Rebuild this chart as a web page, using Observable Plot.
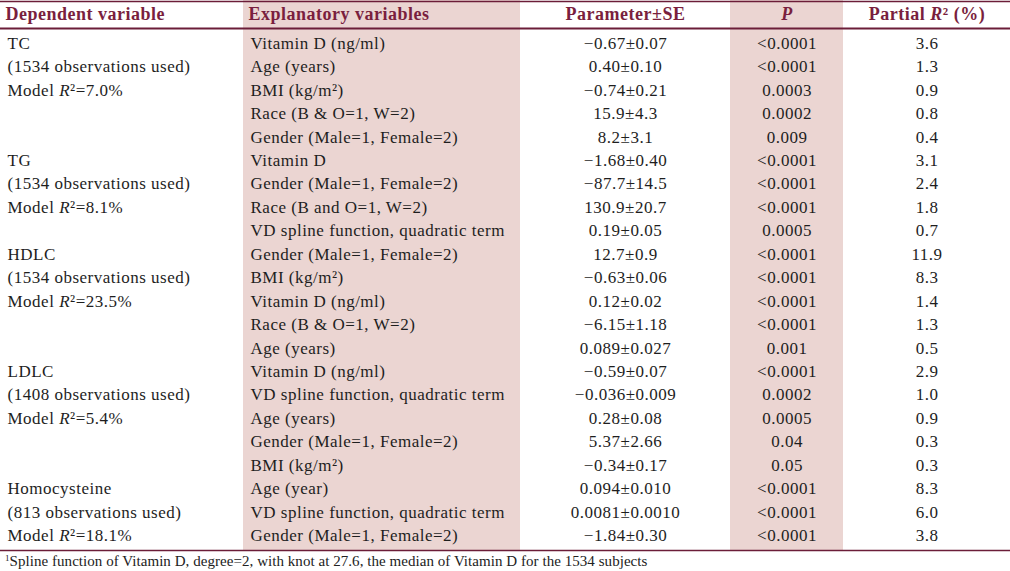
<!DOCTYPE html>
<html><head><meta charset="utf-8">
<script src="https://cdn.jsdelivr.net/npm/d3@7"></script>
<script src="https://cdn.jsdelivr.net/npm/@observablehq/plot@0.6"></script>
<style>
body{margin:0;background:#fff;}
#chart svg{display:block;}
#fn{font-family:"Liberation Serif",serif;font-size:15px;letter-spacing:0.05px;color:#222;margin:0 0 0 5px;line-height:19px;white-space:nowrap;}
#fn sup{font-size:9px;vertical-align:5px;line-height:0;}
</style></head><body>
<div id="chart"></div>
<div id="fn"><sup>1</sup>Spline function of Vitamin D, degree=2, with knot at 27.6, the median of Vitamin D for the 1534 subjects</div>
<script>
// ---- data ----
const columns = ["Dependent variable", "Explanatory variables", "Parameter±SE", "P", "Partial R² (%)"];
const groups = ["TC", "TG", "HDLC", "LDLC", "Homocysteine"];
const groupObs = [1534, 1534, 1534, 1408, 813];
const groupR2 = ["7.0", "8.1", "23.5", "5.4", "18.1"];
const groupSizes = [5, 4, 5, 5, 3];
const explanatory = [
  "Vitamin D (ng/ml)", "Age (years)", "BMI (kg/m²)", "Race (B & O=1, W=2)", "Gender (Male=1, Female=2)",
  "Vitamin D", "Gender (Male=1, Female=2)", "Race (B and O=1, W=2)", "VD spline function, quadratic term",
  "Gender (Male=1, Female=2)", "BMI (kg/m²)", "Vitamin D (ng/ml)", "Race (B & O=1, W=2)", "Age (years)",
  "Vitamin D (ng/ml)", "VD spline function, quadratic term", "Age (years)", "Gender (Male=1, Female=2)", "BMI (kg/m²)",
  "Age (year)", "VD spline function, quadratic term", "Gender (Male=1, Female=2)"
];
const parameters = [
  "−0.67±0.07", "0.40±0.10", "−0.74±0.21", "15.9±4.3", "8.2±3.1",
  "−1.68±0.40", "−87.7±14.5", "130.9±20.7", "0.19±0.05",
  "12.7±0.9", "−0.63±0.06", "0.12±0.02", "−6.15±1.18", "0.089±0.027",
  "−0.59±0.07", "−0.036±0.009", "0.28±0.08", "5.37±2.66", "−0.34±0.17",
  "0.094±0.010", "0.0081±0.0010", "−1.84±0.30"
];
const pValues = [
  "<0.0001", "<0.0001", "0.0003", "0.0002", "0.009",
  "<0.0001", "<0.0001", "<0.0001", "0.0005",
  "<0.0001", "<0.0001", "<0.0001", "<0.0001", "0.001",
  "<0.0001", "0.0002", "0.0005", "0.04", "0.05",
  "<0.0001", "<0.0001", "<0.0001"
];
const partialR2 = [
  "3.6", "1.3", "0.9", "0.8", "0.4",
  "3.1", "2.4", "1.8", "0.7",
  "11.9", "8.3", "1.4", "1.3", "0.5",
  "2.9", "1.0", "0.9", "0.3", "0.3",
  "8.3", "6.0", "3.8"
];

// ---- layout ----
const colEdges = [0, 243, 520, 730, 843, 1010];
const colAlign = ["start", "start", "middle", "middle", "middle"];
const shaded = [1, 3];
const maroon = "#7a1f3e";
const lineColor = "#6b1d38";
const shade = "#ebd5d2";
const ink = "#1e1e1e";
const colX = (c) => colAlign[c] === "start" ? colEdges[c] + 7 : (colEdges[c] + colEdges[c + 1]) / 2;

const rows = explanatory.map((e, i) => ({i, explanatory: e, parameter: parameters[i], p: pValues[i], partial: partialR2[i]}));
const depLines = [];
let start = 0;
groups.forEach((g, k) => {
  [g, `(${groupObs[k]} observations used)`, `Model R²=${groupR2[k]}%`].forEach((t, j) => depLines.push({i: start + j, text: t}));
  start += groupSizes[k];
});
const header = columns.map((name, c) => ({name, c}));

const cellText = (field, c) => Plot.text(rows, {
  x: () => colX(c), y: "i", text: field, textAnchor: colAlign[c], fill: ink
});
const headerText = (anchor, extraDx) => Plot.text(header.filter((d) => colAlign[d.c] === anchor), {
  x: (d) => colX(d.c) + extraDx, frameAnchor: "top", lineAnchor: "middle", dy: -14, text: "name",
  textAnchor: anchor, fill: maroon, fontWeight: "bold", fontSize: 18
});

const plot = Plot.plot({
  width: 1010, height: 552,
  marginLeft: 0, marginRight: 0, marginTop: 28, marginBottom: 2,
  x: {type: "linear", domain: [0, 1010], axis: null},
  y: {type: "band", domain: d3.range(rows.length), paddingInner: 0, paddingOuter: 0.13, round: false, axis: null},
  style: {fontFamily: "Liberation Serif", fontSize: "17px", background: "#fff", letterSpacing: "0.5px"},
  marks: [
    Plot.barX(shaded, {x1: (c) => colEdges[c], x2: (c) => colEdges[c + 1], fill: shade, insetTop: -28}),
    headerText("start", -2),
    headerText("middle", 0),
    Plot.text(depLines, {x: () => colX(0), y: "i", text: "text", textAnchor: "start", fill: ink}),
    cellText("explanatory", 1),
    cellText("parameter", 2),
    cellText("p", 3),
    cellText("partial", 4),
    Plot.frame({anchor: "top", stroke: lineColor, strokeWidth: 2}),
    Plot.frame({anchor: "top", stroke: lineColor, strokeWidth: 1.6, dy: -27}),
    Plot.frame({anchor: "bottom", stroke: lineColor, strokeWidth: 1.6})
  ]
});

// italic R in R² and italic P header
plot.querySelectorAll("text").forEach((t) => {
  if (t.children.length === 0) {
    const s = t.textContent;
    if (s === "P") t.setAttribute("font-style", "italic");
    else if (s.includes("R²")) {
      const [a, b] = s.split("R²");
      t.textContent = "";
      const ns = "http://www.w3.org/2000/svg";
      const t1 = document.createElementNS(ns, "tspan"); t1.textContent = a;
      const t2 = document.createElementNS(ns, "tspan"); t2.textContent = "R"; t2.setAttribute("font-style", "italic");
      const t3 = document.createElementNS(ns, "tspan"); t3.textContent = "²" + b;
      t.append(t1, t2, t3);
    }
  }
});
document.getElementById("chart").append(plot);
</script>
</body></html>
